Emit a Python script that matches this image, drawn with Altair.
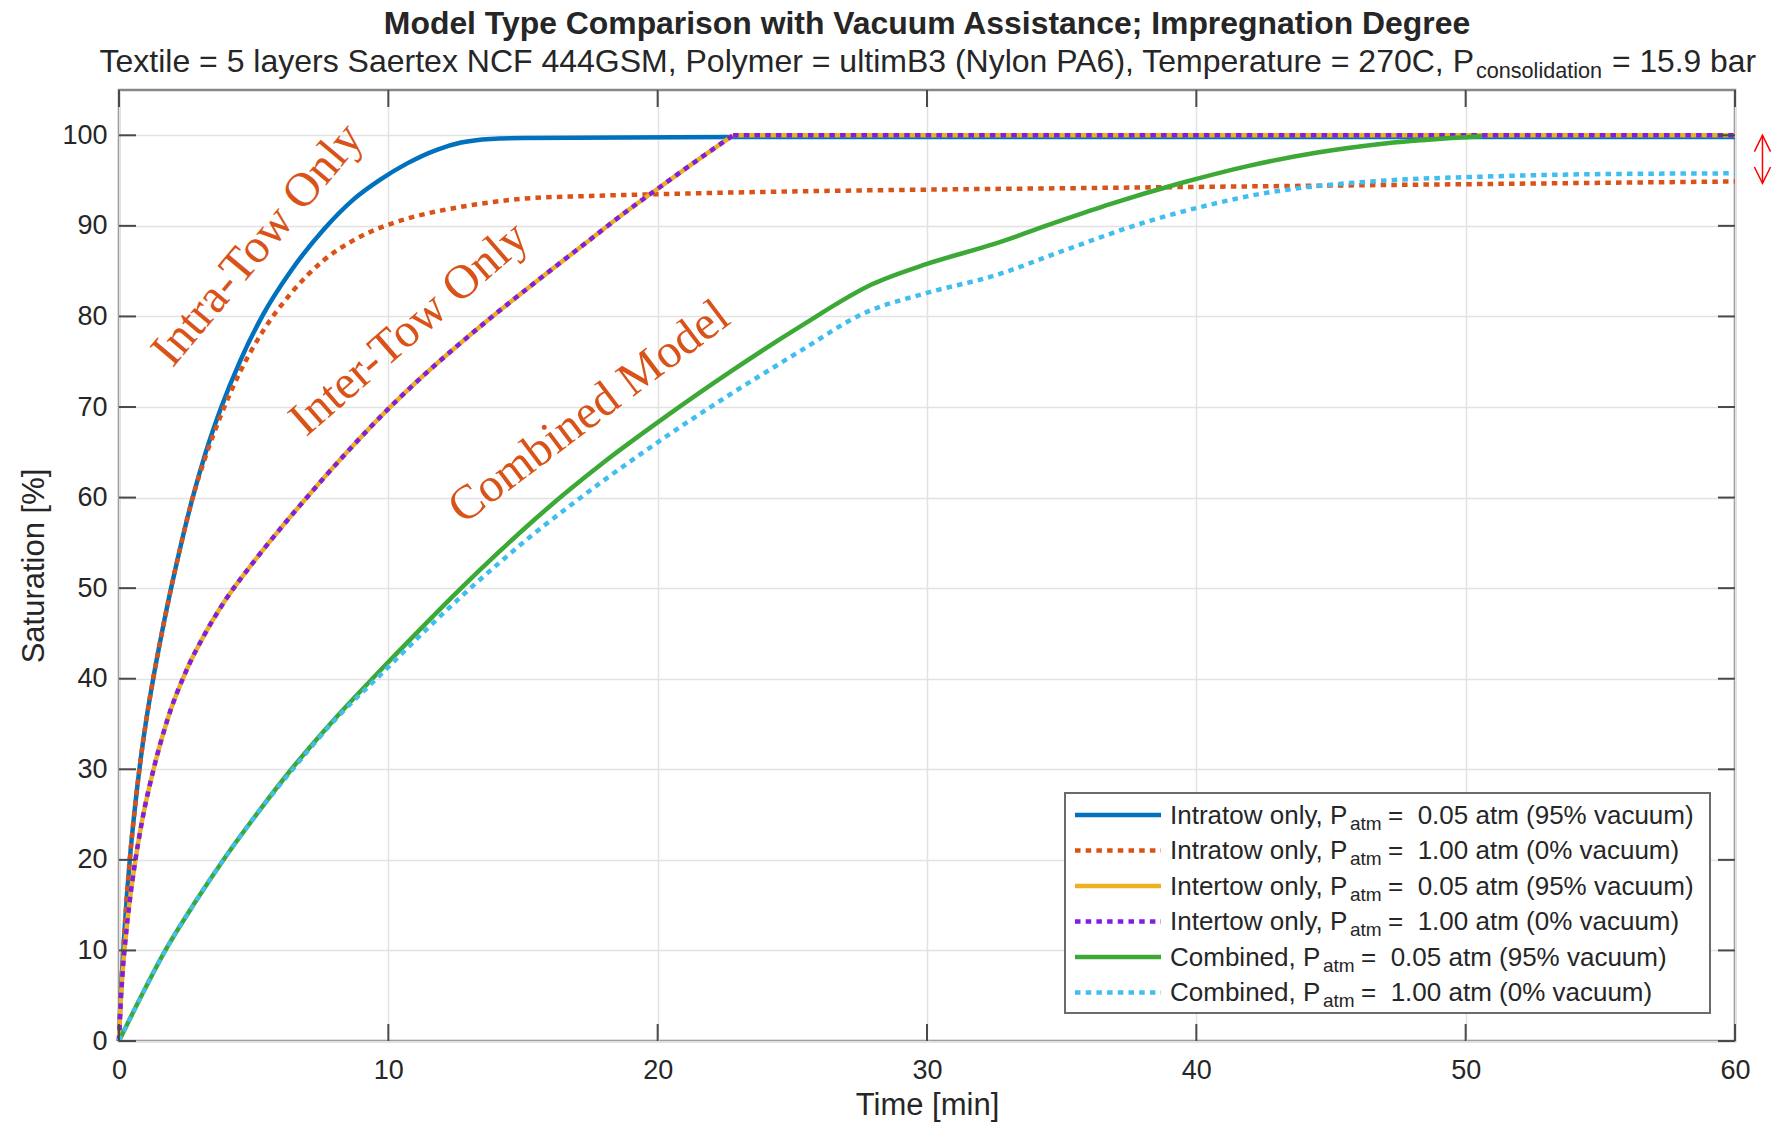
import altair as alt
import pandas as pd

# ---------------------------------------------------------------- data
# time [min] and saturation [%] for each model / vacuum level
t_intra_vac = [0, 0.05, 0.1, 0.2, 0.3, 0.4, 0.6, 0.8, 1.0, 1.27, 1.6, 1.95, 2.3, 2.7, 3.2, 3.8, 4.5,
               5.35, 6.4, 7.6, 8.7, 9.7, 10.7, 11.8, 12.7, 13.8, 15.0, 23.0, 60.0]
s_intra_vac = [0, 4, 7, 12, 16.3, 20, 26, 31, 35.2, 40, 45.2, 50.2, 54.8, 59.6, 64.8, 70, 75.1,
               80.2, 85.1, 89.6, 92.9, 95.1, 96.9, 98.4, 99.2, 99.6, 99.7, 99.8, 99.8]

t_intra_atm = [0, 0.05, 0.1, 0.2, 0.3, 0.4, 0.6, 0.8, 1.0, 1.27, 1.6, 1.95, 2.3, 2.7, 3.2, 3.8,
               4.5, 5.35, 6.4, 7.6, 8.7, 9.7, 10.7, 11.8, 12.7, 13.8, 15.0, 17.5, 20, 25,
               30, 35, 40, 45, 50, 55, 60]
s_intra_atm = [0, 4, 7, 12, 16.3, 20, 26, 31, 35.2, 40, 45.2, 50.2, 54.8, 59.6, 64.4, 69.2,
               73.9, 78.4, 82.6, 86.2, 88.4, 89.8, 90.8, 91.6, 92.1, 92.6, 93.0, 93.3, 93.5, 93.8,
               94.0, 94.15, 94.3, 94.45, 94.6, 94.75, 94.9]

t_inter = [0, 0.05, 0.12, 0.25, 0.4, 0.6, 0.85, 1.3, 1.8, 2.5, 3.2, 4.0, 5.0, 6.0, 7.0, 8.4,
           10.0, 11.2, 12.5, 13.7, 15.0, 16.2, 17.5, 18.8, 20.0, 21.4, 22.8, 60]
s_inter_vac = [0, 3.5, 7, 11.5, 15.5, 19.8, 24.2, 30.2, 35.5, 40.9, 45.0, 48.9, 52.9, 56.6, 60.1,
               64.8, 69.8, 73.2, 76.6, 79.6, 82.7, 85.5, 88.5, 91.5, 94.1, 97.1, 100, 100]
s_inter_atm = [0, 3.5, 7, 11.5, 15.5, 19.8, 24.2, 30.2, 35.5, 40.9, 45.0, 48.9, 52.9, 56.6, 60.1,
               64.8, 69.8, 73.2, 76.6, 79.6, 82.7, 85.5, 88.5, 91.5, 94.1, 97.1, 100, 100]

t_comb_vac = [0, 0.8, 1.7, 2.8, 3.9, 5.1, 6.4, 7.9, 9.6, 11.0, 12.6, 14.0, 15.4, 16.7, 18.0,
              20.0, 22.8, 25.3, 28.0, 30.0, 32.5, 34.8, 36.8, 39.4, 41.9, 44.5, 47.0, 50.6]
s_comb_vac = [0, 4.8, 9.9, 15.2, 20.1, 25.0, 30.0, 35.2, 40.6, 44.9, 49.7, 53.7, 57.5, 60.8, 63.9,
              68.3, 74.1, 78.9, 83.6, 85.8, 88.0, 90.4, 92.4, 94.7, 96.6, 98.1, 99.1, 99.9]

t_comb_atm = [0, 0.8, 1.7, 2.8, 3.9, 5.1, 6.45, 8.0, 9.8, 11.4, 12.9, 14.2, 15.4, 16.7, 18.0,
              20.0, 21.6, 22.8, 24.1, 25.3, 27.7, 30.0, 32.5, 35.1, 38.1, 40.6, 42.5, 44.5,
              47.0, 50.8, 54.6, 60]
s_comb_atm = [0, 4.8, 9.9, 15.2, 20.1, 25.0, 30.0, 35.4, 40.7, 45.4, 49.6, 53.0, 56.0, 59.0, 61.9,
              66.1, 69.3, 71.6, 74.0, 76.2, 80.4, 82.6, 84.5, 87.3, 90.4, 92.4, 93.6, 94.4,
              95.0, 95.45, 95.7, 95.8]

x_ticks = [0, 10, 20, 30, 40, 50, 60]
y_ticks = [0, 10, 20, 30, 40, 50, 60, 70, 80, 90, 100]

NB = "\u00a0"
legend_prefix = ["Intratow only, P", "Intratow only, P", "Intertow only, P",
                 "Intertow only, P", "Combined, P", "Combined, P"]
legend_sub = ["atm", "atm", "atm", "atm", "atm", "atm"]
legend_suffix = ["=" + NB + NB + "0.05 atm (95% vacuum)", "=" + NB + NB + "1.00 atm (0% vacuum)",
                 "=" + NB + NB + "0.05 atm (95% vacuum)", "=" + NB + NB + "1.00 atm (0% vacuum)",
                 "=" + NB + NB + "0.05 atm (95% vacuum)", "=" + NB + NB + "1.00 atm (0% vacuum)"]

# gap between full saturation and the 1 atm plateau, marked at the right edge
gap_arrow_t = 61.02
gap_arrow_top = 100
gap_arrow_bottom = 94.7

# ---------------------------------------------------------------- styles / layout
W, H = 1616, 951
FONT = "Liberation Sans"
SERIF = "Liberation Serif"
TXT = "#262626"
LW = 4.5
DOT = [5.5, 5.2]

series = [
    (t_intra_vac, s_intra_vac, "#0072BD", None),
    (t_intra_atm, s_intra_atm, "#D95319", DOT),
    (t_inter, s_inter_vac, "#EDB120", None),
    (t_inter, s_inter_atm, "#7F1FDF", DOT),
    (t_comb_vac, s_comb_vac, "#3CA936", None),
    (t_comb_atm, s_comb_atm, "#41BEEE", DOT),
]

x_scale = alt.Scale(domain=[0, 60], nice=False, zero=False)
y_scale = alt.Scale(domain=[0, 105], nice=False, zero=False)

x_axis = alt.Axis(values=x_ticks, title="Time [min]", grid=True, gridColor="#e2e2e2",
                  gridWidth=1.5, ticks=False, tickSize=0, domain=False,
                  labelFont=FONT, labelFontSize=27, labelColor=TXT, labelPadding=16,
                  labelFlush=False, labelOverlap=False,
                  titleFont=FONT, titleFontSize=31, titleFontWeight="normal",
                  titleColor=TXT, titleY=64, titleBaseline="middle")
y_axis = alt.Axis(values=y_ticks, title="Saturation [%]", grid=True, gridColor="#e2e2e2",
                  gridWidth=1.5, ticks=False, tickSize=0, domain=False,
                  labelFont=FONT, labelFontSize=27, labelColor=TXT, labelPadding=12,
                  labelOverlap=False,
                  titleFont=FONT, titleFontSize=31, titleFontWeight="normal",
                  titleColor=TXT, titleX=-85, titleY=H / 2, titleAngle=270,
                  titleBaseline="middle")


def xenc(field="t"):
    return alt.X(f"{field}:Q", scale=x_scale, axis=x_axis)


def yenc(field="s"):
    return alt.Y(f"{field}:Q", scale=y_scale, axis=y_axis)


ONE = pd.DataFrame({"k": [0]})
layers = []

# curves: smooth monotone segments; a curve that reaches 100 % is split at the
# corner so the plateau joins with a sharp bend
for t, s, color, dash in series:
    mk = dict(color=color, strokeWidth=LW, strokeCap="butt", interpolate="monotone")
    if dash:
        mk["strokeDash"] = dash
    if 100 in s and s.index(100) < len(s) - 1:
        k = s.index(100)
        parts = [(t[:k + 1], s[:k + 1]), (t[k:], s[k:])]
    else:
        parts = [(t, s)]
    for tt, ss in parts:
        df = pd.DataFrame({"t": tt, "s": ss})
        layers.append(alt.Chart(df).mark_line(**mk).encode(x=xenc(), y=yenc()))

# inward ticks on all four sides
xt = pd.DataFrame({"t": x_ticks})
yt = pd.DataFrame({"s": y_ticks})
TICK = dict(color="#4a4a4a", strokeWidth=2)
TL = 17
layers.append(alt.Chart(xt).mark_rule(**TICK).encode(
    x=xenc(), y=alt.value(H), y2=alt.value(H - TL)))
layers.append(alt.Chart(xt).mark_rule(**TICK).encode(
    x=xenc(), y=alt.value(0), y2=alt.value(TL)))
layers.append(alt.Chart(yt).mark_rule(**TICK).encode(
    y=yenc(), x=alt.value(0), x2=alt.value(TL)))
layers.append(alt.Chart(yt).mark_rule(**TICK).encode(
    y=yenc(), x=alt.value(W - TL), x2=alt.value(W)))

# curve labels
ANN = dict(font=SERIF, fontSize=48, color="#D95319", align="center", baseline="middle")
ann = [("Intra-Tow Only", 5.16, 87.9, 310), ("Inter-Tow Only", 10.78, 78.6, 319),
       ("Combined Model", 17.46, 69.4, 323)]
for label, t, s, ang in ann:
    layers.append(alt.Chart(pd.DataFrame({"t": [t], "s": [s], "lab": [label]}))
                  .mark_text(angle=ang, **ANN).encode(x=xenc(), y=yenc(), text="lab:N"))

# double arrow outside the right edge
HW, HL = 0.3, 1.8
arrow = pd.DataFrame({
    "t": [gap_arrow_t, gap_arrow_t,
          gap_arrow_t - HW, gap_arrow_t, gap_arrow_t + HW,
          gap_arrow_t - HW, gap_arrow_t, gap_arrow_t + HW],
    "s": [gap_arrow_top, gap_arrow_bottom,
          gap_arrow_top - HL, gap_arrow_top, gap_arrow_top - HL,
          gap_arrow_bottom + HL, gap_arrow_bottom, gap_arrow_bottom + HL],
    "g": [0, 0, 1, 1, 1, 2, 2, 2],
    "o": [0, 1, 0, 1, 2, 0, 1, 2],
})
layers.append(alt.Chart(arrow).mark_line(color="#FF0000", strokeWidth=1.5).encode(
    x=xenc(), y=yenc(), detail="g:N", order="o:Q"))

# legend
LX0, LX1, LY0, LY1 = 946, 1591, 703, 923
layers.append(alt.Chart(ONE).mark_rect(fill="white", stroke="#6b6b6b", strokeWidth=2).encode(
    x=alt.value(LX0), x2=alt.value(LX1), y=alt.value(LY0), y2=alt.value(LY1)))
ROW0, ROWSTEP = 725, 35.5
for i, (t, s, color, dash) in enumerate(series):
    ry = ROW0 + ROWSTEP * i
    mk = dict(color=color, strokeWidth=LW, strokeCap="butt")
    if dash:
        mk["strokeDash"] = dash
    layers.append(alt.Chart(ONE).mark_rule(**mk).encode(
        x=alt.value(956), x2=alt.value(1042), y=alt.value(ry)))
    combined = legend_prefix[i].startswith("Combined")
    sub_x = 1204 if combined else 1231
    suf_x = 1242 if combined else 1269
    for txt, x, dy, fs in [(legend_prefix[i], 1051, 8.5, 26), (legend_sub[i], sub_x, 14.5, 19),
                           (legend_suffix[i], suf_x, 8.5, 26)]:
        layers.append(alt.Chart(ONE).mark_text(
            font=FONT, fontSize=fs, color=TXT, align="left", baseline="alphabetic").encode(
            x=alt.value(x), y=alt.value(ry + dy), text=alt.value(txt)))

# title and subtitle
layers.append(alt.Chart(ONE).mark_text(
    font=FONT, fontSize=31.9, fontWeight="bold", color=TXT, align="center",
    baseline="alphabetic").encode(
    x=alt.value(W / 2), y=alt.value(-56.5),
    text=alt.value("Model Type Comparison with Vacuum Assistance; Impregnation Degree")))
SUB = dict(font=FONT, color=TXT, align="left", baseline="alphabetic")
layers.append(alt.Chart(ONE).mark_text(fontSize=32.0, **SUB).encode(
    x=alt.value(-19.5), y=alt.value(-18.5),
    text=alt.value("Textile = 5 layers Saertex NCF 444GSM, Polymer = ultimB3 (Nylon PA6), "
                   "Temperature = 270C, P")))
layers.append(alt.Chart(ONE).mark_text(fontSize=21.6, **SUB).encode(
    x=alt.value(1357), y=alt.value(-12), text=alt.value("consolidation")))
layers.append(alt.Chart(ONE).mark_text(fontSize=31.8, **SUB).encode(
    x=alt.value(1493), y=alt.value(-18.5), text=alt.value("= 15.9 bar")))

chart = alt.layer(*layers).properties(
    width=W, height=H,
    autosize=alt.AutoSizeParams(type="none"),
    padding={"left": 119, "top": 90, "right": 37, "bottom": 81},
    background="white",
).configure_view(stroke="#878787", strokeWidth=2.5)

chart.save("out.html", embed_options={"renderer": "svg", "actions": False})
